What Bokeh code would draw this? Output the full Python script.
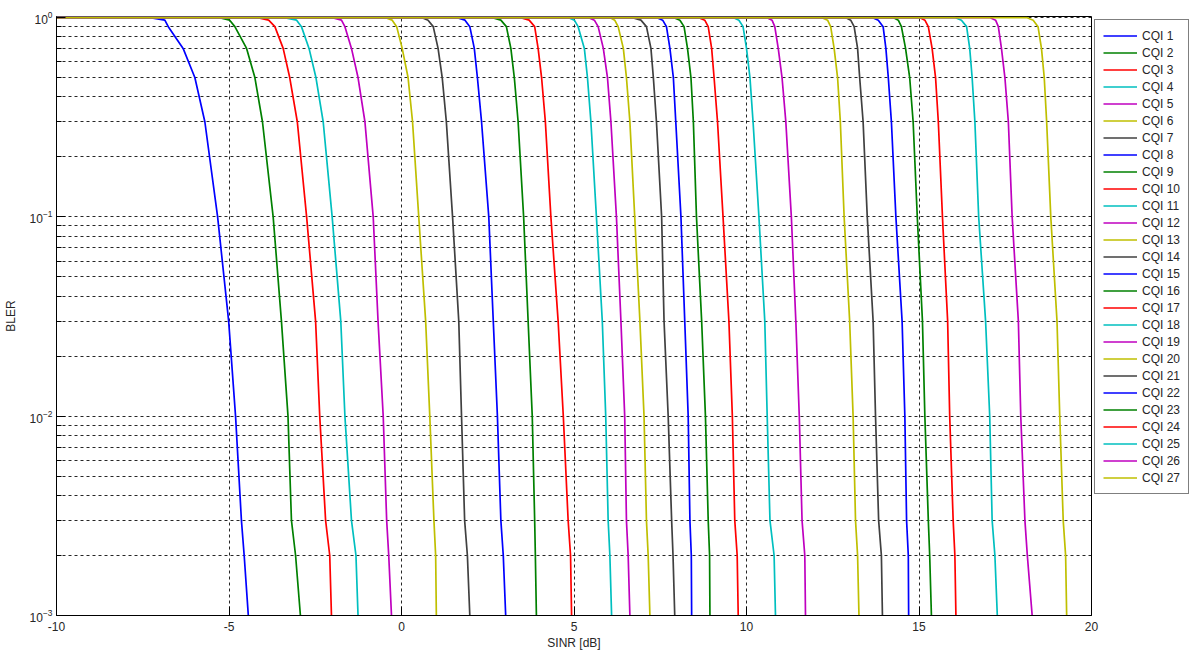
from bokeh.plotting import figure
from bokeh.models import (Legend, LegendItem, FixedTicker, Range1d, LogTickFormatter)
from bokeh.embed import file_html
from bokeh.resources import INLINE

# ---- data ----
SINR_MIN = -10
# BLER level of every point of a curve (first point is at SINR_MIN)
BLER_LEVELS = [1.0, 1.0, 0.97, 0.9, 0.7, 0.5, 0.3, 0.1, 0.03, 0.01, 0.003, 0.002, 0.001]

cqi1 = [-7.33, -6.86, -6.76, -6.33, -5.99, -5.70, -5.33, -5.01, -4.81, -4.64, -4.56, -4.44]
cqi2 = [-5.31, -4.98, -4.83, -4.49, -4.25, -4.03, -3.72, -3.48, -3.29, -3.19, -3.07, -2.93]
cqi3 = [-4.20, -3.85, -3.67, -3.43, -3.24, -3.02, -2.75, -2.49, -2.37, -2.20, -2.08, -2.03]
cqi4 = [-3.43, -3.04, -2.90, -2.68, -2.48, -2.27, -2.01, -1.76, -1.64, -1.45, -1.32, -1.26]
cqi5 = [-2.03, -1.74, -1.64, -1.45, -1.26, -1.06, -0.82, -0.68, -0.53, -0.43, -0.37, -0.29]
cqi6 = [-0.48, -0.27, -0.14, 0.02, 0.19, 0.32, 0.50, 0.70, 0.82, 0.94, 0.99, 1.01]
cqi7 = [0.58, 0.77, 0.92, 1.06, 1.18, 1.30, 1.48, 1.66, 1.74, 1.83, 1.91, 1.98]
cqi8 = [1.59, 1.84, 1.98, 2.11, 2.20, 2.32, 2.53, 2.66, 2.78, 2.88, 2.95, 3.02]
cqi9 = [2.61, 2.88, 3.04, 3.17, 3.27, 3.38, 3.54, 3.67, 3.79, 3.86, 3.88, 3.91]
cqi10 = [3.43, 3.70, 3.86, 3.96, 4.06, 4.17, 4.33, 4.54, 4.69, 4.83, 4.90, 4.93]
cqi11 = [4.83, 5.01, 5.12, 5.30, 5.39, 5.49, 5.65, 5.82, 5.92, 5.99, 6.04, 6.09]
cqi12 = [5.41, 5.59, 5.70, 5.85, 5.97, 6.07, 6.23, 6.36, 6.47, 6.52, 6.57, 6.62]
cqi13 = [6.04, 6.18, 6.28, 6.43, 6.52, 6.62, 6.76, 6.91, 7.03, 7.10, 7.15, 7.20]
cqi14 = [6.67, 6.94, 7.10, 7.23, 7.30, 7.39, 7.54, 7.61, 7.73, 7.83, 7.87, 7.92]
cqi15 = [7.39, 7.57, 7.68, 7.78, 7.88, 7.95, 8.10, 8.21, 8.31, 8.36, 8.40, 8.41]
cqi16 = [7.88, 8.07, 8.19, 8.29, 8.39, 8.46, 8.55, 8.70, 8.81, 8.89, 8.93, 8.94]
cqi17 = [8.60, 8.79, 8.89, 8.99, 9.06, 9.16, 9.32, 9.49, 9.59, 9.66, 9.73, 9.76]
cqi18 = [9.61, 9.78, 9.90, 10.00, 10.10, 10.19, 10.36, 10.53, 10.60, 10.68, 10.80, 10.84]
cqi19 = [10.58, 10.74, 10.82, 10.92, 11.03, 11.14, 11.30, 11.43, 11.53, 11.61, 11.69, 11.71]
cqi20 = [12.17, 12.35, 12.44, 12.54, 12.64, 12.72, 12.83, 12.99, 13.09, 13.16, 13.22, 13.26]
cqi21 = [12.87, 13.02, 13.12, 13.22, 13.28, 13.38, 13.50, 13.67, 13.74, 13.83, 13.91, 13.94]
cqi22 = [13.64, 13.82, 13.96, 14.04, 14.11, 14.20, 14.33, 14.51, 14.59, 14.64, 14.69, 14.70]
cqi23 = [14.25, 14.40, 14.49, 14.61, 14.73, 14.83, 14.95, 15.10, 15.17, 15.27, 15.31, 15.36]
cqi24 = [15.02, 15.17, 15.27, 15.38, 15.48, 15.56, 15.68, 15.83, 15.89, 15.99, 16.04, 16.07]
cqi25 = [16.04, 16.23, 16.38, 16.47, 16.54, 16.62, 16.73, 16.93, 17.05, 17.12, 17.20, 17.27]
cqi26 = [17.05, 17.22, 17.30, 17.39, 17.49, 17.59, 17.70, 17.88, 17.95, 18.07, 18.14, 18.28]
cqi27 = [18.12, 18.31, 18.45, 18.55, 18.63, 18.70, 18.82, 19.00, 19.08, 19.18, 19.25, 19.28]

SERIES = [cqi1, cqi2, cqi3, cqi4, cqi5, cqi6, cqi7, cqi8, cqi9, cqi10, cqi11, cqi12,
          cqi13, cqi14, cqi15, cqi16, cqi17, cqi18, cqi19, cqi20, cqi21, cqi22, cqi23,
          cqi24, cqi25, cqi26, cqi27]
LABELS = [f"CQI {i}" for i in range(1, 28)]

X_TICKS = [-10, -5, 0, 5, 10, 15, 20]
X_TICK_LABELS = ["-10", "-5", "0", "5", "10", "15", "20"]
Y_MAJOR = [0.001, 0.01, 0.1, 1.0]
Y_MINOR = [m * d for d in (0.001, 0.01, 0.1) for m in range(2, 10)]

COLORS = ["#0000ff", "#008000", "#ff0000", "#00bfbf", "#bf00bf", "#bfbf00", "#404040"]

FONT = "Liberation Sans"
TXT = "#262626"

p = figure(frame_width=1035, frame_height=599, x_range=Range1d(-10, 20),
           y_range=Range1d(1e-3, 1.012), y_axis_type="log",
           output_backend="svg", toolbar_location=None,
           min_border_left=55, min_border_right=100, min_border_top=16,
           min_border_bottom=38, background_fill_color="white",
           border_fill_color="white")
p.outline_line_color = "#000000"
p.outline_line_width = 1

# grids
p.xgrid.ticker = FixedTicker(ticks=X_TICKS)
p.xgrid.grid_line_color = "#000000"
p.xgrid.grid_line_dash = "3 3"
p.xgrid.grid_line_alpha = 0.85
p.ygrid.ticker = FixedTicker(ticks=Y_MAJOR, minor_ticks=Y_MINOR)
p.ygrid.grid_line_color = "#000000"
p.ygrid.grid_line_dash = "3 3"
p.ygrid.grid_line_alpha = 0.85
p.ygrid.minor_grid_line_color = "#000000"
p.ygrid.minor_grid_line_dash = "3 3"
p.ygrid.minor_grid_line_alpha = 0.85

# bottom axis
xa = p.xaxis[0]
xa.ticker = FixedTicker(ticks=X_TICKS)
xa.major_label_overrides = dict(zip(X_TICKS, X_TICK_LABELS))
xa.major_tick_in = 9
xa.major_tick_out = 0
xa.minor_tick_line_color = None
xa.axis_line_color = "#000000"
xa.major_tick_line_color = "#000000"
xa.major_label_text_font = FONT
xa.major_label_text_font_size = "12px"
xa.major_label_text_color = TXT
xa.major_label_standoff = 6
xa.axis_label = "SINR [dB]"
xa.axis_label_text_font = FONT
xa.axis_label_text_font_size = "12px"
xa.axis_label_text_font_style = "normal"
xa.axis_label_text_color = TXT
xa.axis_label_standoff = 2

# left axis
ya = p.yaxis[0]
ya.ticker = FixedTicker(ticks=Y_MAJOR, minor_ticks=Y_MINOR)
ya.formatter = LogTickFormatter()
ya.major_tick_in = 9
ya.major_tick_out = 0
ya.minor_tick_in = 5
ya.minor_tick_out = 0
ya.axis_line_color = "#000000"
ya.major_label_text_font = FONT
ya.major_label_text_font_size = "12px"
ya.major_label_text_color = TXT
ya.major_label_standoff = 4
ya.axis_label = "BLER"
ya.axis_label_text_font = FONT
ya.axis_label_text_font_size = "12px"
ya.axis_label_text_font_style = "normal"
ya.axis_label_text_color = TXT
ya.axis_label_standoff = 9

items = []
for i, (sinr, label) in enumerate(zip(SERIES, LABELS)):
    xs = [SINR_MIN] + sinr
    r = p.line(xs, BLER_LEVELS, line_color=COLORS[i % len(COLORS)], line_width=1.7,
               line_join="round")
    items.append(LegendItem(label=label, renderers=[r]))

legend = Legend(items=items, location="top_left", orientation="vertical",
                label_text_font=FONT, label_text_font_size="12px",
                label_text_color=TXT, glyph_width=34, glyph_height=15,
                label_height=15, spacing=2, padding=8, label_standoff=5,
                border_line_color="#000000", border_line_width=1,
                background_fill_color="white", background_fill_alpha=1.0,
                margin=3)
p.add_layout(legend, "right")

open("out.html", "w").write(file_html(p, INLINE))
